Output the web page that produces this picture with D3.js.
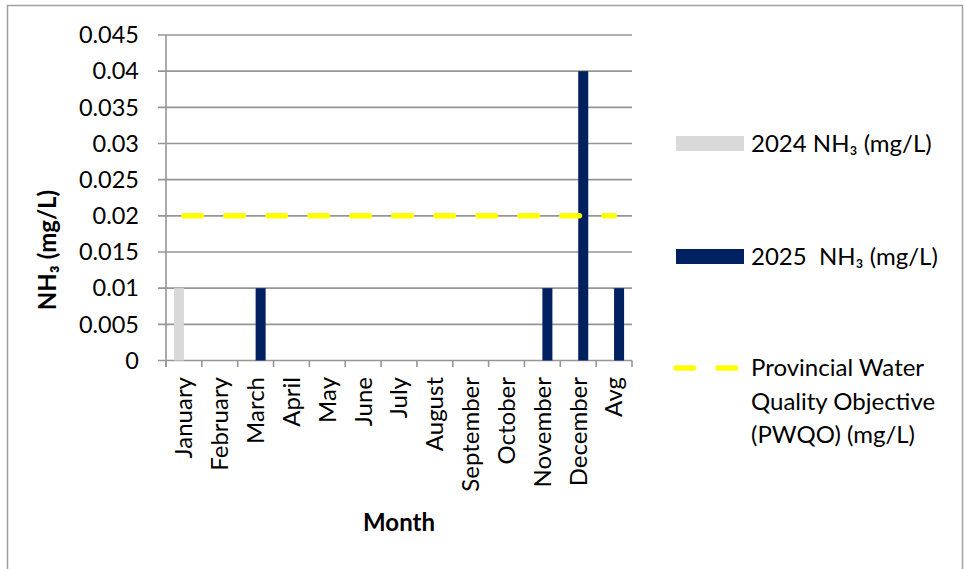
<!DOCTYPE html>
<html>
<head>
<meta charset="utf-8">
<script src="https://cdn.jsdelivr.net/npm/d3@7"></script>
<style>
  html, body { margin: 0; padding: 0; background: #fff; }
  svg text { font-family: Lato, "Noto Sans", "DejaVu Sans", sans-serif; fill: #000; white-space: pre; }
</style>
</head>
<body>
<svg id="chart" width="966" height="569"></svg>
<script>
// Monthly ammonia (NH3) results with the provincial objective
const months = ["January", "February", "March", "April", "May", "June", "July",
  "August", "September", "October", "November", "December", "Avg"];
const nh3_2024 = [0.01, null, null, null, null, null, null, null, null, null, null, null, null];
const nh3_2025 = [null, null, 0.01, null, null, null, null, null, null, null, 0.01, 0.04, 0.01];
const pwqo = [0.02, 0.02, 0.02, 0.02, 0.02, 0.02, 0.02, 0.02, 0.02, 0.02, 0.02, 0.02, 0.02];
const yTicks = [0, 0.005, 0.01, 0.015, 0.02, 0.025, 0.03, 0.035, 0.04, 0.045];
const seriesNames = ["2024 NH₃ (mg/L)", "2025  NH₃ (mg/L)"];
const pwqoName = ["Provincial Water", "Quality Objective", "(PWQO) (mg/L)"];

const svg = d3.select("#chart");
const gridColor = "#969696";
const colors = ["#d9d9d9", "#002060"];

// chart border
svg.append("rect")
  .attr("x", 7.5).attr("y", 5.5)
  .attr("width", 955).attr("height", 620)
  .attr("fill", "#fff").attr("stroke", "#a0a0a0").attr("stroke-width", 1.5);

const x = d3.scaleBand().domain(months).range([166, 632]).padding(0);
const xInner = d3.scaleBand().domain(["2024", "2025"]).range([0, x.bandwidth()])
  .paddingInner(0).paddingOuter(0.79);
const y = d3.scaleLinear().domain([0, 0.045]).range([360.5, 35]);

// horizontal gridlines with left tick stubs
svg.append("g").selectAll("line").data(yTicks).join("line")
  .attr("x1", 158).attr("x2", 632)
  .attr("y1", d => y(d)).attr("y2", d => y(d))
  .attr("stroke", gridColor).attr("stroke-width", 1.6);

// y tick labels
const fmt = d3.format("~g");
svg.append("g").selectAll("text").data(yTicks).join("text")
  .attr("x", 139).attr("y", d => y(d))
  .attr("dy", "0.35em")
  .attr("text-anchor", "end")
  .style("font-size", "23.5px")
  .text(d => fmt(d));

// bars
const seriesData = [nh3_2024, nh3_2025];
const keys = ["2024", "2025"];
seriesData.forEach((vals, si) => {
  svg.append("g").selectAll("rect")
    .data(months.map((m, i) => ({ m, v: vals[i] })).filter(d => d.v != null))
    .join("rect")
    .attr("x", d => x(d.m) + xInner(keys[si]))
    .attr("width", xInner.bandwidth())
    .attr("y", d => y(d.v))
    .attr("height", d => y(0) - y(d.v))
    .attr("fill", colors[si]);
});

// axes lines
svg.append("line").attr("x1", 166).attr("x2", 166).attr("y1", 35).attr("y2", 367)
  .attr("stroke", gridColor).attr("stroke-width", 1.6);
const xTickPos = months.map(m => x(m)).concat([x.range()[1]]);
svg.append("g").selectAll("line").data(xTickPos).join("line")
  .attr("x1", d => d).attr("x2", d => d)
  .attr("y1", y(0)).attr("y2", 367)
  .attr("stroke", gridColor).attr("stroke-width", 1.6);

// PWQO dashed line
const line = d3.line().x((d, i) => x(months[i]) + x.bandwidth() / 2).y(d => y(d));
svg.append("path").datum(pwqo)
  .attr("d", line)
  .attr("fill", "none")
  .attr("stroke", "#ffff00")
  .attr("stroke-width", 5.5)
  .attr("stroke-linecap", "round")
  .attr("stroke-dasharray", "17.5 24.5");

// month labels (rotated)
svg.append("g").selectAll("text").data(months).join("text")
  .attr("transform", d => `translate(${x(d) + x.bandwidth() / 2},377) rotate(-90)`)
  .attr("dy", "0.35em")
  .attr("text-anchor", "end")
  .style("font-size", "24px")
  .text(d => d);

// axis titles
svg.append("text")
  .attr("x", 399).attr("y", 523).attr("dy", "0.35em")
  .attr("text-anchor", "middle")
  .style("font-size", "24px").style("font-weight", "bold")
  .text("Month");
svg.append("text")
  .attr("transform", "translate(48,250) rotate(-90)")
  .attr("dy", "0.35em")
  .attr("text-anchor", "middle")
  .style("font-size", "24px").style("font-weight", "bold")
  .text("NH₃ (mg/L)");

// legend
const leg = svg.append("g");
const legY = [143.5, 256.5];
seriesNames.forEach((name, i) => {
  leg.append("rect").attr("x", 676).attr("y", legY[i] - 7.5)
    .attr("width", 68).attr("height", 15).attr("fill", colors[i]);
  leg.append("text").attr("x", 751).attr("y", legY[i]).attr("dy", "0.35em")
    .style("font-size", "24px").text(name);
});
leg.append("line").attr("x1", 676).attr("x2", 736).attr("y1", 368).attr("y2", 368)
  .attr("stroke", "#ffff00").attr("stroke-width", 5.5)
  .attr("stroke-linecap", "round").attr("stroke-dasharray", "17.5 24.5");
pwqoName.forEach((t, i) => {
  leg.append("text").attr("x", 751).attr("y", 368 + i * 33.5).attr("dy", "0.35em")
    .style("font-size", "24px").text(t);
});
</script>
</body>
</html>
